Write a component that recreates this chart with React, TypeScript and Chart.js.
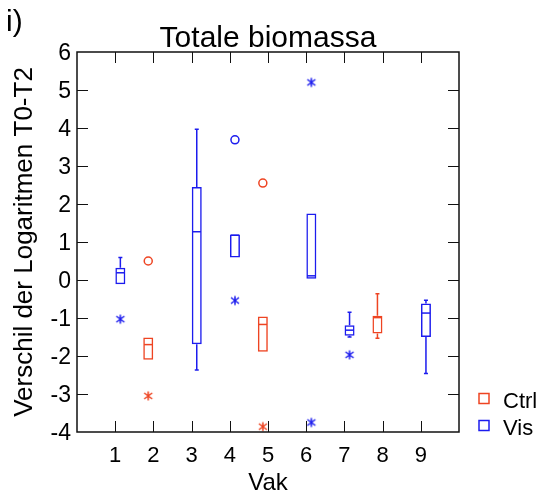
import React, { useEffect, useRef } from 'react';
import { Chart, registerables } from 'chart.js';

Chart.register(...registerables);

// ---- data ----
const vak = [1, 2, 3, 4, 5, 6, 7, 8, 9];
const groups = ['Vis', 'Ctrl', 'Vis', 'Vis', 'Ctrl', 'Vis', 'Vis', 'Ctrl', 'Vis'];
const whiskerLow = [-0.11, -2.10, -2.37, 0.59, -1.89, 0.03, -1.50, -1.53, -2.46];
const q1 = [-0.11, -2.10, -1.69, 0.59, -1.89, 0.03, -1.47, -1.41, -1.50];
const median = [0.19, -1.70, 1.27, 1.18, -1.17, 0.11, -1.32, -0.99, -0.87];
const q3 = [0.32, -1.51, 2.45, 1.20, -0.96, 1.75, -1.19, -0.94, -0.62];
const whiskerHigh = [0.59, -1.51, 3.97, 1.20, -0.96, 1.75, -0.85, -0.36, -0.53];

const circleVak = [2, 4, 5];
const circleVal = [0.50, 3.69, 2.55];
const starVak = [1, 2, 4, 5, 6, 6, 7];
const starVal = [-1.03, -3.05, -0.54, -3.86, 5.20, -3.75, -1.97];

const xTickLabels = ['1', '2', '3', '4', '5', '6', '7', '8', '9'];
const legendLabels = ['Ctrl', 'Vis'];

const TITLE = 'Totale biomassa';
const PANEL = 'i)';
const Y_TITLE = 'Verschil der Logaritmen T0-T2';
const X_TITLE = 'Vak';

const CTRL = '#ee4422';
const VIS = '#1c1cee';
const HALF = 0.135; // half box width in Vak units
const FONT = '"Liberation Sans", Arial, Helvetica, sans-serif';

const groupOf = (v: number) => groups[vak.indexOf(v)];
const colorOf = (g: string) => (g === 'Ctrl' ? CTRL : VIS);
const xPos = (i: number) => vak[i] + (groups[i] === 'Vis' ? HALF : -HALF);
const xPosV = (v: number) => v + (groupOf(v) === 'Vis' ? HALF : -HALF);

function makeStar(color: string): HTMLCanvasElement {
  const c = document.createElement('canvas');
  c.width = 12;
  c.height = 12;
  const g = c.getContext('2d')!;
  g.strokeStyle = color;
  g.lineWidth = 1.5;
  g.beginPath();
  g.moveTo(2, 3);
  g.lineTo(10, 9);
  g.moveTo(10, 3);
  g.lineTo(2, 9);
  g.moveTo(6, 1.5);
  g.lineTo(6, 10.5);
  g.stroke();
  return c;
}

const extras = {
  id: 'boxExtras',
  afterDatasetsDraw(chart: any) {
    const { ctx, chartArea: a, scales } = chart;
    const x = scales.x;
    const y = scales.y;
    ctx.save();
    // medians & whiskers
    vak.forEach((v, i) => {
      const col = colorOf(groups[i]);
      const cx = x.getPixelForValue(xPos(i));
      const hw = x.getPixelForValue(HALF) - x.getPixelForValue(0);
      ctx.strokeStyle = col;
      ctx.lineWidth = 1.5;
      ctx.beginPath();
      ctx.moveTo(cx - hw + 1, y.getPixelForValue(median[i]));
      ctx.lineTo(cx + hw - 1, y.getPixelForValue(median[i]));
      ctx.stroke();
      if (whiskerHigh[i] > q3[i]) {
        const yt = y.getPixelForValue(whiskerHigh[i]);
        ctx.beginPath();
        ctx.moveTo(cx, y.getPixelForValue(q3[i]));
        ctx.lineTo(cx, yt);
        ctx.moveTo(cx - 2, yt);
        ctx.lineTo(cx + 2, yt);
        ctx.stroke();
      }
      if (whiskerLow[i] < q1[i]) {
        const yb = y.getPixelForValue(whiskerLow[i]);
        ctx.beginPath();
        ctx.moveTo(cx, y.getPixelForValue(q1[i]));
        ctx.lineTo(cx, yb);
        ctx.moveTo(cx - 2, yb);
        ctx.lineTo(cx + 2, yb);
        ctx.stroke();
      }
    });
    // frame
    ctx.strokeStyle = '#111';
    ctx.lineWidth = 1.5;
    ctx.strokeRect(a.left, a.top, a.right - a.left, a.bottom - a.top);
    // inward ticks
    const TL = 11;
    ctx.lineWidth = 1;
    ctx.beginPath();
    y.ticks.forEach((t: any) => {
      if (t.value <= y.min || t.value >= y.max) return;
      const py = Math.round(y.getPixelForValue(t.value)) + 0.5;
      ctx.moveTo(a.left, py);
      ctx.lineTo(a.left + TL, py);
      ctx.moveTo(a.right, py);
      ctx.lineTo(a.right - TL, py);
    });
    x.ticks.forEach((t: any) => {
      if (t.value <= x.min || t.value >= x.max) return;
      const px = Math.round(x.getPixelForValue(t.value)) + 0.5;
      ctx.moveTo(px, a.bottom);
      ctx.lineTo(px, a.bottom - TL);
      ctx.moveTo(px, a.top);
      ctx.lineTo(px, a.top + TL);
    });
    ctx.stroke();
    ctx.restore();
  },
  afterDraw(chart: any) {
    const { ctx, chartArea: a } = chart;
    ctx.save();
    ctx.fillStyle = '#000';
    ctx.textBaseline = 'alphabetic';
    ctx.font = `30px ${FONT}`;
    ctx.textAlign = 'center';
    ctx.fillText(TITLE, (a.left + a.right) / 2, 47);
    ctx.font = `30px ${FONT}`;
    ctx.textAlign = 'left';
    ctx.fillText(PANEL, 6, 31);
    // legend
    ctx.font = `22px ${FONT}`;
    legendLabels.forEach((lab, k) => {
      const top = 393 + k * 27;
      ctx.strokeStyle = colorOf(lab);
      ctx.lineWidth = 1.5;
      ctx.strokeRect(479, top + 0.5, 10, 10);
      ctx.fillStyle = '#000';
      ctx.fillText(lab, 503, top + 15);
    });
    ctx.restore();
  },
};

export default function App() {
  const ref = useRef<HTMLCanvasElement>(null);
  useEffect(() => {
    if (!ref.current) return;
    Chart.defaults.font.family = FONT;
    Chart.defaults.color = '#000';
    const idx = (g: string) => vak.map((_, i) => i).filter((i) => groups[i] === g);
    const boxData = (g: string) => idx(g).map((i) => ({ x: xPos(i), y: [q1[i], q3[i]] }));
    const barCommon = {
      type: 'bar' as const,
      backgroundColor: 'rgba(0,0,0,0)',
      borderWidth: 1.5,
      borderSkipped: false,
      grouped: false,
      maxBarThickness: 10,
      inflateAmount: 0,
    };
    const chart = new Chart(ref.current, {
      type: 'bar',
      data: {
        datasets: [
          { ...barCommon, label: 'Ctrl', data: boxData('Ctrl') as any, borderColor: CTRL },
          { ...barCommon, label: 'Vis', data: boxData('Vis') as any, borderColor: VIS },
          {
            type: 'scatter',
            label: 'outliers',
            data: circleVak.map((v, k) => ({ x: xPosV(v), y: circleVal[k] })),
            pointStyle: 'circle',
            pointRadius: 4,
            pointBorderWidth: 1.5,
            pointBackgroundColor: 'rgba(0,0,0,0)',
            pointBorderColor: circleVak.map((v) => colorOf(groupOf(v))),
          } as any,
          {
            type: 'scatter',
            label: 'extremes',
            data: starVak.map((v, k) => ({ x: xPosV(v), y: starVal[k] })),
            pointStyle: starVak.map((v) => makeStar(colorOf(groupOf(v)))),
            pointRadius: 6,
          } as any,
        ],
      },
      options: {
        responsive: false,
        animation: false,
        events: [],
        layout: { padding: { top: 52, right: 85, left: 0, bottom: 0 } },
        plugins: { legend: { display: false }, tooltip: { enabled: false }, title: { display: false } },
        scales: {
          x: {
            type: 'linear',
            min: 0,
            max: 10,
            offset: false,
            grid: { display: false, drawTicks: false },
            border: { display: false },
            ticks: {
              stepSize: 1,
              autoSkip: false,
              maxRotation: 0,
              padding: 11,
              font: { size: 22 },
              color: '#000',
              callback: (v: any) => (v >= 1 && v <= 9 ? xTickLabels[v - 1] : ''),
            },
            title: { display: true, text: X_TITLE, font: { size: 24 }, color: '#000', padding: { top: 0, bottom: -3 } },
            afterFit: (s: any) => { s.height = 63; },
          },
          y: {
            type: 'linear',
            min: -4,
            max: 6,
            grid: { display: false, drawTicks: false },
            border: { display: false },
            ticks: { stepSize: 1, padding: 6, font: { size: 23 }, color: '#000', labelOffset: 2 },
            title: { display: true, text: Y_TITLE, font: { size: 26 }, color: '#000', padding: { top: 9, bottom: 0 } },
            afterFit: (s: any) => { s.width = 77; },
          },
        },
      } as any,
      plugins: [extras],
    });
    return () => chart.destroy();
  }, []);
  return (
    <div style={{ position: 'absolute', left: 0, top: 0, width: 544, height: 495, background: '#fff' }}>
      <canvas ref={ref} width={544} height={495} style={{ display: 'block' }} />
    </div>
  );
}
